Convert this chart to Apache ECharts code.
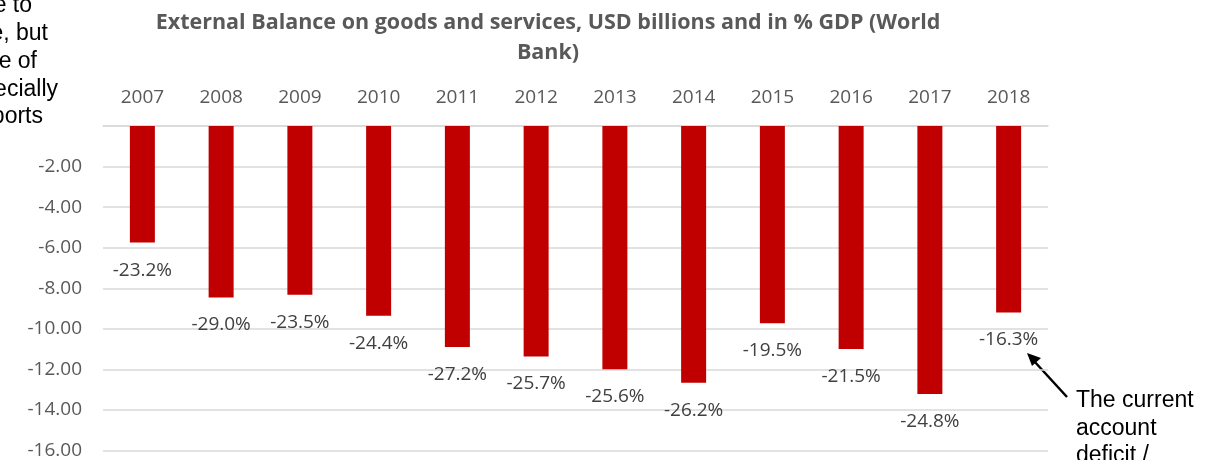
<!DOCTYPE html>
<html>
<head>
<meta charset="utf-8">
<script src="https://cdn.jsdelivr.net/npm/echarts@6/dist/echarts.min.js"></script>
<style>
  html, body { margin: 0; padding: 0; background: #fff; }
  #chart { width: 1217px; height: 460px; }
</style>
</head>
<body>
<div id="chart"></div>
<script>
// Years on the category axis
const years = ['2007', '2008', '2009', '2010', '2011', '2012', '2013', '2014', '2015', '2016', '2017', '2018'];
// External balance on goods and services, USD billions
const balanceUsdBn = [-5.75, -8.45, -8.32, -9.35, -10.90, -11.36, -11.99, -12.66, -9.72, -11.00, -13.22, -9.19];
// Same balance expressed as % of GDP (shown as bar labels)
const balancePctGdp = [-23.2, -29.0, -23.5, -24.4, -27.2, -25.7, -25.6, -26.2, -19.5, -21.5, -24.8, -16.3];

const chart = echarts.init(document.getElementById('chart'), null, { renderer: 'canvas' });

const FONT = '"Open Sans", "Noto Sans", sans-serif';
const NOTE_FONT = '"Liberation Sans", Arial, sans-serif';

chart.setOption({
  animation: false,
  backgroundColor: '#ffffff',
  title: {
    text: 'External Balance on goods and services, USD billions and in % GDP (World\nBank)',
    left: 543,
    top: 3,
    textAlign: 'center',
    textStyle: {
      fontFamily: FONT,
      fontWeight: 'bold',
      fontSize: 21.5,
      lineHeight: 30,
      color: '#595959'
    }
  },
  grid: { left: 103, right: 169, top: 126, bottom: 9, containLabel: false },
  xAxis: {
    type: 'category',
    position: 'top',
    data: years,
    axisLine: { show: true, lineStyle: { color: '#d9d9d9', width: 1.5 } },
    axisTick: { show: false },
    axisLabel: {
      margin: 19,
      fontFamily: FONT,
      fontSize: 19,
      color: '#595959'
    }
  },
  yAxis: {
    type: 'value',
    min: -16,
    max: 0,
    interval: 2,
    axisLine: { show: false },
    axisTick: { show: false },
    splitLine: { show: true, lineStyle: { color: '#d9d9d9', width: 1.5 } },
    axisLabel: {
      margin: 21,
      fontFamily: FONT,
      fontSize: 19,
      color: '#595959',
      formatter: v => (v === 0 ? '' : v.toFixed(2))
    }
  },
  series: [{
    type: 'bar',
    data: balanceUsdBn,
    barWidth: 25,
    itemStyle: { color: '#c00000' },
    label: {
      show: true,
      position: 'outside',
      distance: 18,
      fontFamily: FONT,
      fontSize: 19,
      color: '#404040',
      formatter: p => balancePctGdp[p.dataIndex].toFixed(1) + '%'
    }
  }],
  graphic: [
    // Fragments of the neighbouring commentary text box
    { type: 'text', right: 1217 - 32, top: 5 - 11, style: { text: 'e to', font: '23px ' + NOTE_FONT, fill: '#000' } },
    { type: 'text', right: 1217 - 48, top: 32 - 10, style: { text: 'e, but', font: '23px ' + NOTE_FONT, fill: '#000' } },
    { type: 'text', right: 1217 - 37, top: 60 - 10, style: { text: 'e of', font: '23px ' + NOTE_FONT, fill: '#000' } },
    { type: 'text', right: 1217 - 58, top: 88 - 10, style: { text: 'ecially', font: '23px ' + NOTE_FONT, fill: '#000' } },
    { type: 'text', right: 1217 - 43, top: 115 - 10, style: { text: 'ports', font: '23px ' + NOTE_FONT, fill: '#000' } },
    // Call-out pointing at the 2018 label
    {
      type: 'line',
      shape: { x1: 1067, y1: 397, x2: 1034, y2: 361 },
      style: { stroke: '#000', lineWidth: 2.5 }
    },
    {
      type: 'polygon',
      shape: { points: [[1027, 353], [1041, 358], [1032, 366]] },
      style: { fill: '#000' }
    },
    {
      type: 'text',
      left: 1076,
      top: 387,
      style: {
        text: 'The current\naccount\ndeficit /',
        font: '23px ' + NOTE_FONT,
        lineHeight: 27.5,
        fill: '#000'
      }
    }
  ]
});
</script>
</body>
</html>
